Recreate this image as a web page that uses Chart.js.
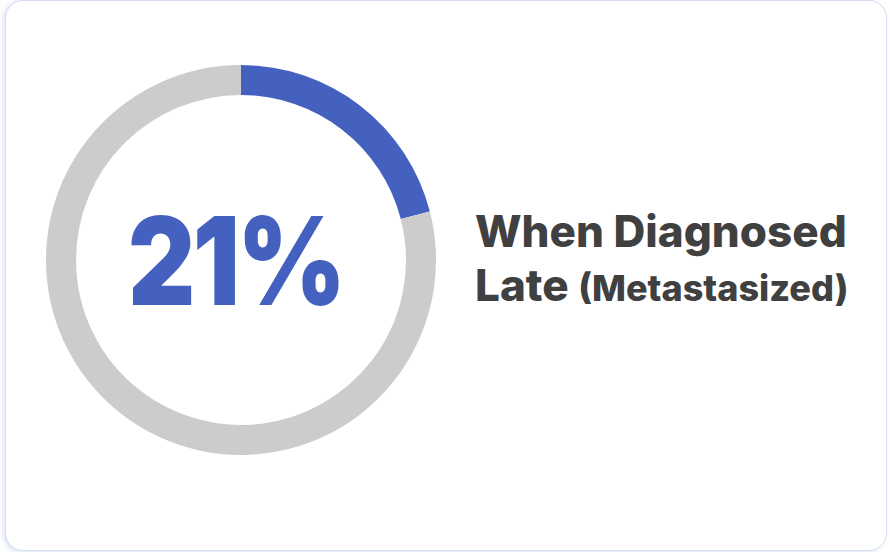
<!DOCTYPE html>
<html>
<head>
<meta charset="utf-8">
<script src="https://cdn.jsdelivr.net/npm/chart.js@4.4.0/dist/chart.umd.min.js"></script>
<style>
  body { margin: 0; background: #ffffff; width: 890px; height: 552px; overflow: hidden; }
  .card {
    position: absolute; left: 5px; top: 0px; width: 880px; height: 549px;
    border: 1.5px solid #d4dcf6; border-radius: 18px; background: #fff;
    box-shadow: -2px 1px 4px rgba(190, 200, 235, 0.5);
  }
  .chart-box { position: absolute; left: 46px; top: 65px; width: 390px; height: 390px; }
  .label {
    position: absolute; left: 475px; top: 204px;
    font-family: Inter, "Noto Sans", sans-serif; font-weight: 800;
    color: #404040; font-size: 44px; line-height: 54px; letter-spacing: 0px;
    white-space: nowrap;
  }
  .label small { font-size: 36px; }
</style>
</head>
<body>
<div class="card"></div>
<div class="chart-box"><canvas id="myChart"></canvas></div>
<div class="label">When Diagnosed<br>Late <small>(Metastasized)</small></div>
<script>
const labels = ['Diagnosed late', 'Other'];
const values = [21, 79];
const colors = ['#4461c0', '#cccccc'];
const centerText = '21%';

const centerLabel = {
    id: 'centerLabel',
    afterDraw(chart) {
        const ctx = chart.ctx;
        const arc = chart.getDatasetMeta(0).data[0];
        ctx.save();
        ctx.font = '900 122px Inter, sans-serif';
        ctx.letterSpacing = '-3px';
        ctx.fillStyle = colors[0];
        ctx.textAlign = 'left';
        ctx.textBaseline = 'alphabetic';
        const w = ctx.measureText(centerText).width + 3;
        // squeeze to the width of the original heavy face
        const target = 218;
        const sx = Math.min(1, target / w);
        ctx.translate(arc.x - 4, arc.y + 45);
        ctx.scale(sx, 1);
        ctx.fillText(centerText, -w / 2, 0);
        ctx.restore();
    }
};

const ctx = document.getElementById('myChart').getContext('2d');
const myChart = new Chart(ctx, {
    type: 'doughnut',
    data: {
        labels: labels,
        datasets: [{
            data: values,
            backgroundColor: colors,
            borderWidth: 0
        }]
    },
    options: {
        responsive: true,
        maintainAspectRatio: false,
        animation: false,
        cutout: '84.6%',
        layout: { padding: 0 },
        plugins: {
            legend: { display: false },
            tooltip: { enabled: false }
        }
    },
    plugins: [centerLabel]
});
</script>
</body>
</html>
